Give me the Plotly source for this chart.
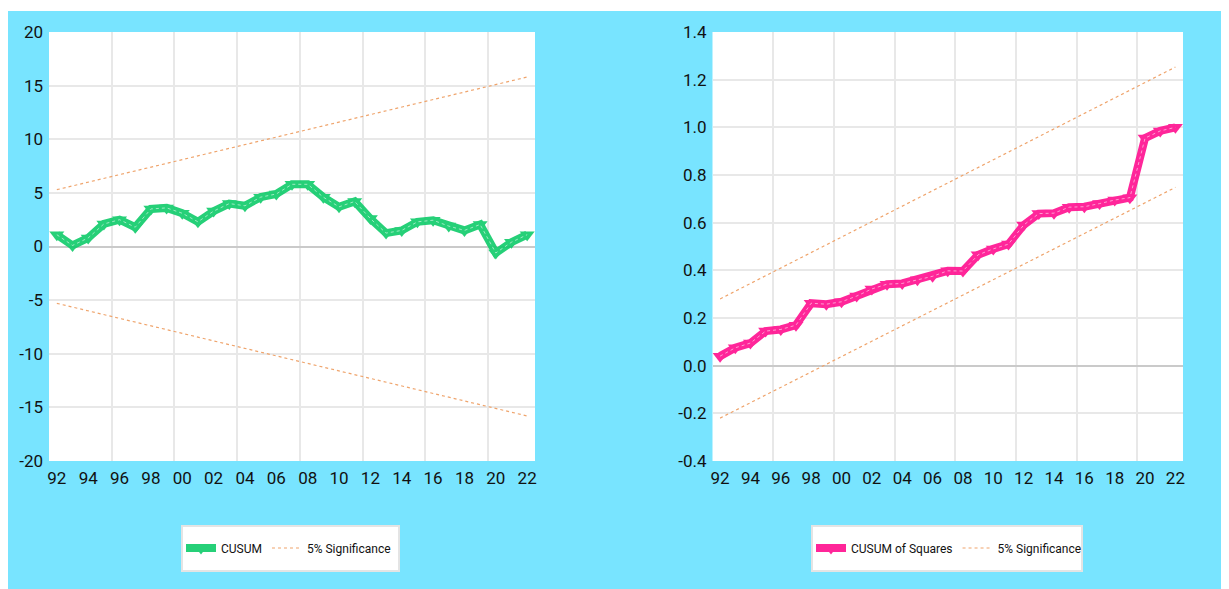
import plotly.graph_objects as go

years = list(range(1992, 2023))

cusum = [1.1, 0.1, 0.8, 2.1, 2.5, 1.8, 3.5, 3.6, 3.1, 2.3, 3.3, 4.0, 3.8, 4.6, 4.9,
         5.8, 5.8, 4.6, 3.7, 4.2, 2.6, 1.25, 1.5, 2.3, 2.45, 1.9, 1.5, 2.05, -0.6, 0.4, 1.1]

cusum_sq = [0.04, 0.075, 0.095, 0.145, 0.152, 0.17, 0.262, 0.258, 0.268, 0.292, 0.322,
            0.342, 0.345, 0.36, 0.375, 0.398, 0.397, 0.465, 0.49, 0.51, 0.59, 0.638,
            0.64, 0.665, 0.667, 0.68, 0.695, 0.705, 0.955, 0.985, 1.0]

# 5% significance bounds (straight lines: start and end points)
sig_years = [1992, 2022]
cusum_upper = [5.3, 15.8]
cusum_lower = [-5.3, -15.8]
sq_upper = [0.28, 1.253]
sq_lower = [-0.22, 0.748]

tick_years = [1992, 1994, 1996, 1998, 2000, 2002, 2004, 2006, 2008, 2010,
              2012, 2014, 2016, 2018, 2020, 2022]
tick_labels = ["92", "94", "96", "98", "00", "02", "04", "06", "08", "10",
               "12", "14", "16", "18", "20", "22"]

left_y_ticks = [20, 15, 10, 5, 0, -5, -10, -15, -20]
left_y_labels = ["20", "15", "10", "5", "0", "-5", "-10", "-15", "-20"]
right_y_ticks = [1.4, 1.2, 1.0, 0.8, 0.6, 0.4, 0.2, 0.0, -0.2, -0.4]
right_y_labels = ["1.4", "1.2", "1.0", "0.8", "0.6", "0.4", "0.2", "0.0", "-0.2", "-0.4"]

GREEN = "#0FCB6A"
PINK = "#FF0F8F"
ORANGE = "#EFA46C"
CYAN = "#78E4FF"
FONT = "Roboto, Liberation Sans, sans-serif"
TICKFONT = dict(family=FONT, size=17, color="#111111")

fig = go.Figure()

# Left panel: CUSUM
fig.add_trace(go.Scatter(
    x=years, y=cusum, name="CUSUM", mode="lines+markers",
    line=dict(color=GREEN, width=8),
    marker=dict(symbol="triangle-down", size=13, color=GREEN),
    opacity=0.9, xaxis="x", yaxis="y", legend="legend"))
fig.add_trace(go.Scatter(
    x=years, y=cusum, mode="lines", showlegend=False, hoverinfo="skip",
    line=dict(color="rgba(255,255,255,0.55)", width=1, dash="dot"),
    xaxis="x", yaxis="y"))
fig.add_trace(go.Scatter(
    x=sig_years, y=cusum_upper, name="5% Significance", mode="lines",
    line=dict(color=ORANGE, width=1.2, dash="dot"),
    xaxis="x", yaxis="y", legend="legend"))
fig.add_trace(go.Scatter(
    x=sig_years, y=cusum_lower, name="5% Significance", mode="lines", showlegend=False,
    line=dict(color=ORANGE, width=1.2, dash="dot"),
    xaxis="x", yaxis="y"))

# Right panel: CUSUM of Squares
fig.add_trace(go.Scatter(
    x=years, y=cusum_sq, name="CUSUM of Squares", mode="lines+markers",
    line=dict(color=PINK, width=8),
    marker=dict(symbol="triangle-down", size=13, color=PINK),
    opacity=0.9, xaxis="x2", yaxis="y2", legend="legend2"))
fig.add_trace(go.Scatter(
    x=years, y=cusum_sq, mode="lines", showlegend=False, hoverinfo="skip",
    line=dict(color="rgba(255,255,255,0.55)", width=1, dash="dot"),
    xaxis="x2", yaxis="y2"))
fig.add_trace(go.Scatter(
    x=sig_years, y=sq_upper, name="5% Significance", mode="lines",
    line=dict(color=ORANGE, width=1.2, dash="dot"),
    xaxis="x2", yaxis="y2", legend="legend2"))
fig.add_trace(go.Scatter(
    x=sig_years, y=sq_lower, name="5% Significance", mode="lines", showlegend=False,
    line=dict(color=ORANGE, width=1.2, dash="dot"),
    xaxis="x2", yaxis="y2"))

# page has an 8px body margin; figure coordinates are page coordinates minus 8
W, H = 1221, 581
y_dom = [(H - 453) / H, (H - 24) / H]

xaxis_common = dict(
    range=[1991.5, 2022.5], tickmode="array", tickvals=tick_years, ticktext=tick_labels,
    showgrid=False, zeroline=False, showline=False, ticks="", ticklabelstandoff=5,
    automargin=False, tickfont=TICKFONT,
    minor=dict(tick0=1995.5, dtick=4, showgrid=True, gridcolor="#E8E8E8", gridwidth=2,
               ticks=""),
    fixedrange=True)

yaxis_common = dict(
    tickmode="array", showgrid=True, gridcolor="#E8E8E8", gridwidth=2,
    zeroline=True, zerolinecolor="#CACACA", zerolinewidth=2,
    ticks="", ticklabelstandoff=5, automargin=False, tickfont=TICKFONT,
    fixedrange=True)

legend_rects = [(174, 391), (804, 1074)]
shapes = [
    dict(type="rect", xref="paper", yref="paper", x0=0, x1=1, y0=(H - 3) / H, y1=1,
         fillcolor="white", line=dict(width=0)),
]
for x0, x1 in legend_rects:
    shapes.append(dict(type="rect", xref="paper", yref="paper", x0=x0 / W, x1=x1 / W,
                       y0=(H - 563) / H, y1=(H - 518) / H, fillcolor="white",
                       line=dict(color="#E4E4E4", width=2), layer="below"))

legend_common = dict(
    y=(H - 540) / H, xanchor="left", yanchor="middle", orientation="h",
    bgcolor="rgba(0,0,0,0)", borderwidth=0,
    font=dict(family=FONT, size=12, color="#111111"))

fig.update_layout(
    width=W, height=H,
    margin=dict(l=0, r=0, t=0, b=0, autoexpand=False),
    paper_bgcolor=CYAN, plot_bgcolor="white",
    font=dict(family=FONT, color="#111111"),
    xaxis=dict(domain=[41 / W, 527 / W], anchor="y", **xaxis_common),
    xaxis2=dict(domain=[704.5 / W, 1175 / W], anchor="y2", **xaxis_common),
    yaxis=dict(domain=y_dom, anchor="x", range=[-20, 20], tickvals=left_y_ticks,
               ticktext=left_y_labels, **yaxis_common),
    yaxis2=dict(domain=y_dom, anchor="x2", range=[-0.4, 1.4], tickvals=right_y_ticks,
                ticktext=right_y_labels, **yaxis_common),
    legend=dict(x=173 / W, **legend_common),
    legend2=dict(x=803 / W, **legend_common),
    shapes=shapes,
)

fig.write_html("out.html")
